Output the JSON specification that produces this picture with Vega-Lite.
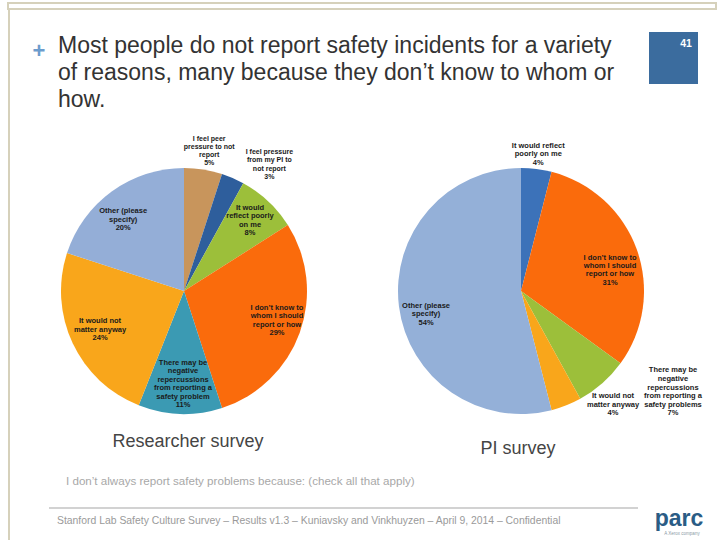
{
  "$schema": "https://vega.github.io/schema/vega-lite/v6.json",
  "background": "white",
  "padding": {"left": 7, "top": 2, "right": 0, "bottom": 0},
  "config": {"view": {"stroke": null}, "font": "Liberation Sans", "text": {"fontWeight": "bold", "fontSize": 7.5, "lineBreak": "\n", "lineHeight": 8.5, "color": "#1a1a1a", "align": "center", "baseline": "middle"}},
  "spacing": 0,
  "vconcat": [
    {
      "width": 708, "height": 6,
      "data": {"values": [{"frame": "previous slide"}]},
      "mark": {"type": "rect", "filled": false, "stroke": "#d6d1bb", "strokeWidth": 2},
      "encoding": {}
    },
    {
      "spacing": 22,
      "hconcat": [
        {
          "width": 2, "height": 530,
          "data": {"values": [{"frame": "slide"}]},
          "mark": {"type": "rect", "color": "#d6d1bb"},
          "encoding": {}
        },
        {
          "spacing": 0,
          "vconcat": [
            {"width": 1, "height": 22, "data": {"values": []}, "mark": "point"},
            {
              "spacing": 565,
              "bounds": "flush",
              "hconcat": [
                {
                  "width": 52, "height": 81,
                  "layer": [
                    {
                      "data": {"values": [
                        {"line": 1, "text": "Most people do not report safety incidents for a variety"},
                        {"line": 2, "text": "of reasons, many because they don’t know to whom or"},
                        {"line": 3, "text": "how."}
                      ]},
                      "mark": {"type": "text", "align": "left", "baseline": "middle", "fontSize": 23, "fontWeight": "normal", "color": "#333333"},
                      "encoding": {
                        "y": {"field": "line", "type": "ordinal", "axis": null},
                        "text": {"field": "text", "type": "nominal"}
                      }
                    },
                    {
                      "data": {"values": [{"symbol": "+"}]},
                      "mark": {"type": "text", "align": "center", "baseline": "middle", "fontSize": 22, "fontWeight": "bold", "color": "#6c9ccd", "dx": -19, "dy": -21.5},
                      "encoding": {"text": {"field": "symbol", "type": "nominal"}}
                    }
                  ]
                },
                {
                  "width": 49, "height": 52,
                  "data": {"values": [{"page": "41"}]},
                  "layer": [
                    {"mark": {"type": "rect", "color": "#3b6c9e"}, "encoding": {}},
                    {
                      "mark": {"type": "text", "color": "#ffffff", "fontWeight": "bold", "fontSize": 10.5, "dx": 12.5, "dy": -14.5},
                      "encoding": {"text": {"field": "page", "type": "nominal"}}
                    }
                  ]
                }
              ]
            },
            {"width": 1, "height": 9, "data": {"values": []}, "mark": "point"},
            {
              "spacing": 60,
              "bounds": "flush",
              "resolve": {"scale": {"color": "independent", "theta": "independent"}},
              "hconcat": [
                {
                  "width": 304, "height": 336,
                  "data": {"values": [
                    {"option": 1, "reason": "I feel peer pressure to not report", "pct": 5, "label": "I feel peer\npressure to not\nreport\n5%"},
                    {"option": 2, "reason": "I feel pressure from my PI to not report", "pct": 3, "label": "I feel pressure\nfrom my PI to\nnot report\n3%"},
                    {"option": 3, "reason": "It would reflect poorly on me", "pct": 8, "label": "It would\nreflect poorly\non me\n8%"},
                    {"option": 4, "reason": "I don’t know to whom I should report or how", "pct": 29, "label": "I don’t know to\nwhom I should\nreport or how\n29%"},
                    {"option": 5, "reason": "There may be negative repercussions from reporting a safety problem", "pct": 11, "label": "There may be\nnegative\nrepercussions\nfrom reporting a\nsafety problem\n11%"},
                    {"option": 6, "reason": "It would not matter anyway", "pct": 24, "label": "It would not\nmatter anyway\n24%"},
                    {"option": 7, "reason": "Other (please specify)", "pct": 20, "label": "Other (please\nspecify)\n20%"}
                  ]},
                  "encoding": {
                    "theta": {"field": "pct", "type": "quantitative", "stack": true},
                    "order": {"field": "option", "type": "quantitative"}
                  },
                  "layer": [
                    {
                      "mark": {"type": "arc", "radius": 123},
                      "encoding": {
                        "color": {
                          "field": "reason", "type": "nominal", "legend": null,
                          "scale": {
                            "domain": ["I feel peer pressure to not report", "I feel pressure from my PI to not report", "It would reflect poorly on me", "I don’t know to whom I should report or how", "There may be negative repercussions from reporting a safety problem", "It would not matter anyway", "Other (please specify)"],
                            "range": ["#c8955c", "#2e5e9c", "#9cbf3a", "#fa6b0c", "#3b9ab3", "#f9a61b", "#94aed7"]
                          }
                        }
                      }
                    },
                    {
                      "mark": {"type": "text", "radius": 142, "dx": 3, "dy": -11.5, "fontSize": 7, "lineHeight": 8},
                      "encoding": {"detail": {"field": "reason", "type": "nominal"}, "text": {"condition": {"test": "datum.option === 1", "field": "label", "type": "nominal"}, "value": ""}}
                    },
                    {
                      "mark": {"type": "text", "radius": 142, "dx": 29, "dy": -8.7, "fontSize": 7, "lineHeight": 8.3},
                      "encoding": {"detail": {"field": "reason", "type": "nominal"}, "text": {"condition": {"test": "datum.option === 2", "field": "label", "type": "nominal"}, "value": ""}}
                    },
                    {
                      "mark": {"type": "text", "radius": 95, "dx": 1, "dy": -14},
                      "encoding": {"detail": {"field": "reason", "type": "nominal"}, "text": {"condition": {"test": "datum.option === 3", "field": "label", "type": "nominal"}, "value": ""}}
                    },
                    {
                      "mark": {"type": "text", "radius": 95, "dx": 3.6, "dy": -15.5},
                      "encoding": {"detail": {"field": "reason", "type": "nominal"}, "text": {"condition": {"test": "datum.option === 4", "field": "label", "type": "nominal"}, "value": ""}}
                    },
                    {
                      "mark": {"type": "text", "radius": 95, "dx": 2, "dy": -23},
                      "encoding": {"detail": {"field": "reason", "type": "nominal"}, "text": {"condition": {"test": "datum.option === 5", "field": "label", "type": "nominal"}, "value": ""}}
                    },
                    {
                      "mark": {"type": "text", "radius": 95, "dx": 2, "dy": -10.4},
                      "encoding": {"detail": {"field": "reason", "type": "nominal"}, "text": {"condition": {"test": "datum.option === 6", "field": "label", "type": "nominal"}, "value": ""}}
                    },
                    {
                      "mark": {"type": "text", "radius": 95, "dx": -5, "dy": -3},
                      "encoding": {"detail": {"field": "reason", "type": "nominal"}, "text": {"condition": {"test": "datum.option === 7", "field": "label", "type": "nominal"}, "value": ""}}
                    },
                    {
                      "data": {"values": [{"survey": "Researcher survey"}]},
                      "mark": {"type": "text", "fontSize": 18, "fontWeight": "normal", "color": "#454545", "dx": 4, "dy": 151},
                      "encoding": {"theta": null, "order": null, "text": {"field": "survey", "type": "nominal"}}
                    }
                  ]
                },
                {
                  "width": 250, "height": 336,
                  "data": {"values": [
                    {"option": 3, "reason": "It would reflect poorly on me", "pct": 4, "label": "It would reflect\npoorly on me\n4%"},
                    {"option": 4, "reason": "I don’t know to whom I should report or how", "pct": 31, "label": "I don’t know to\nwhom I should\nreport or how\n31%"},
                    {"option": 5, "reason": "There may be negative repercussions from reporting a safety problem", "pct": 7, "label": "There may be\nnegative\nrepercussions\nfrom reporting a\nsafety problems\n7%"},
                    {"option": 6, "reason": "It would not matter anyway", "pct": 4, "label": "It would not\nmatter anyway\n4%"},
                    {"option": 7, "reason": "Other (please specify)", "pct": 54, "label": "Other (please\nspecify)\n54%"}
                  ]},
                  "encoding": {
                    "theta": {"field": "pct", "type": "quantitative", "stack": true},
                    "order": {"field": "option", "type": "quantitative"}
                  },
                  "layer": [
                    {
                      "mark": {"type": "arc", "radius": 123},
                      "encoding": {
                        "color": {
                          "field": "reason", "type": "nominal", "legend": null,
                          "scale": {
                            "domain": ["It would reflect poorly on me", "I don’t know to whom I should report or how", "There may be negative repercussions from reporting a safety problem", "It would not matter anyway", "Other (please specify)"],
                            "range": ["#3c72b9", "#fa6b0c", "#9cbf3a", "#f9a61b", "#94b0d8"]
                          }
                        }
                      }
                    },
                    {
                      "mark": {"type": "text", "radius": 138, "dy": -8, "lineHeight": 8.3},
                      "encoding": {"detail": {"field": "reason", "type": "nominal"}, "text": {"condition": {"test": "datum.option === 3", "field": "label", "type": "nominal"}, "value": ""}}
                    },
                    {
                      "mark": {"type": "text", "radius": 94, "dx": 0.6, "dy": -1.5, "lineHeight": 8.3},
                      "encoding": {"detail": {"field": "reason", "type": "nominal"}, "text": {"condition": {"test": "datum.option === 4", "field": "label", "type": "nominal"}, "value": ""}}
                    },
                    {
                      "mark": {"type": "text", "radius": 140, "dx": 59.4, "dy": -25.7, "lineHeight": 8.6},
                      "encoding": {"detail": {"field": "reason", "type": "nominal"}, "text": {"condition": {"test": "datum.option === 5", "field": "label", "type": "nominal"}, "value": ""}}
                    },
                    {
                      "mark": {"type": "text", "radius": 140, "dx": 40.5, "dy": -25.2, "lineHeight": 8.6},
                      "encoding": {"detail": {"field": "reason", "type": "nominal"}, "text": {"condition": {"test": "datum.option === 6", "field": "label", "type": "nominal"}, "value": ""}}
                    },
                    {
                      "mark": {"type": "text", "radius": 94, "dx": -1.7, "dy": 3.2, "lineHeight": 8.3},
                      "encoding": {"detail": {"field": "reason", "type": "nominal"}, "text": {"condition": {"test": "datum.option === 7", "field": "label", "type": "nominal"}, "value": ""}}
                    },
                    {
                      "data": {"values": [{"survey": "PI survey"}]},
                      "mark": {"type": "text", "fontSize": 18, "fontWeight": "normal", "color": "#454545", "dx": -3, "dy": 158},
                      "encoding": {"theta": null, "order": null, "text": {"field": "survey", "type": "nominal"}}
                    }
                  ]
                }
              ]
            },
            {
              "width": 68, "height": 48,
              "data": {"values": [{"note": "I don’t always report safety problems because: (check all that apply)"}]},
              "mark": {"type": "text", "align": "left", "baseline": "middle", "fontSize": 11.6, "fontWeight": "normal", "color": "#a8a8a8", "dy": -1},
              "encoding": {"text": {"field": "note", "type": "nominal"}}
            },
            {
              "spacing": 16,
              "bounds": "flush",
              "hconcat": [
                {"width": 1, "height": 2, "data": {"values": []}, "mark": "point"},
                {
                  "width": 589, "height": 2,
                  "data": {"values": [{"rule": "footer"}]},
                  "mark": {"type": "rect", "color": "#d2d2d2"},
                  "encoding": {},
                  "title": {
                    "text": "Stanford Lab Safety Culture Survey –  Results v1.3 – Kuniavsky and Vinkhuyzen – April 9, 2014 – Confidential",
                    "orient": "bottom", "anchor": "start", "baseline": "top", "offset": 6.5, "dx": 8,
                    "fontSize": 10.4, "fontWeight": "normal", "color": "#9a9a9a", "font": "Liberation Sans"
                  }
                },
                {
                  "width": 50, "height": 2,
                  "data": {"values": [{"logo": "parc", "tag": "A Xerox company"}]},
                  "layer": [
                    {
                      "mark": {"type": "text", "fontSize": 23, "fontWeight": "bold", "color": "#2a5c85", "dy": 10.5},
                      "encoding": {"text": {"field": "logo", "type": "nominal"}}
                    },
                    {
                      "mark": {"type": "text", "fontSize": 4.5, "fontWeight": "normal", "color": "#8a9aa5", "dx": 3, "dy": 25.5},
                      "encoding": {"text": {"field": "tag", "type": "nominal"}}
                    }
                  ]
                }
              ]
            }
          ]
        }
      ]
    }
  ]
}
